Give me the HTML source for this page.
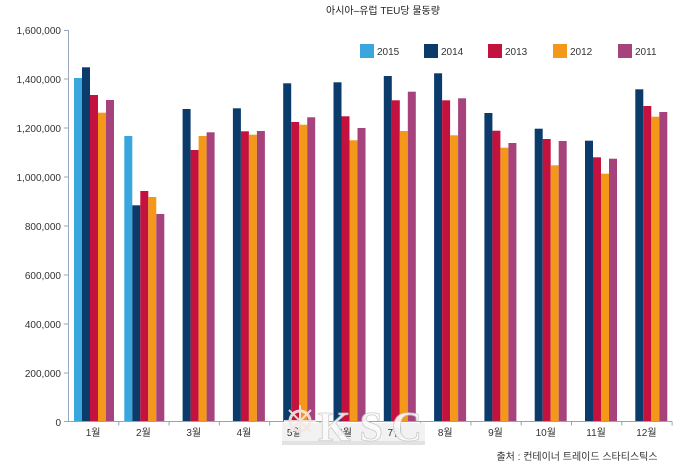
<!DOCTYPE html>
<html><head><meta charset="utf-8"><style>
html,body{margin:0;padding:0;background:#fff;}
svg{display:block;}
text{font-family:"Liberation Sans","Noto Sans CJK KR",sans-serif;}
</style></head><body>
<svg width="700" height="476" viewBox="0 0 700 476" xmlns="http://www.w3.org/2000/svg">
<rect width="700" height="476" fill="#fff"/>
<text x="383" y="14" font-size="10" fill="#222" text-anchor="middle">아시아–유럽 TEU당 물동량</text>
<!-- legend -->
<g font-size="10" fill="#333">
<rect x="360" y="44" width="14" height="14" fill="#3aa6de"/><text x="377" y="55">2015</text>
<rect x="424" y="44" width="14" height="14" fill="#0b3b6b"/><text x="441" y="55">2014</text>
<rect x="488" y="44" width="14" height="14" fill="#c4123e"/><text x="505" y="55">2013</text>
<rect x="553" y="44" width="14" height="14" fill="#f4981a"/><text x="570" y="55">2012</text>
<rect x="618" y="44" width="14" height="14" fill="#a7437c"/><text x="635" y="55">2011</text>
</g>
<!-- y axis -->
<g stroke="#9aa6bc" stroke-width="1">
<line x1="68.5" y1="30" x2="68.5" y2="422"/>
<line x1="64" y1="30.5" x2="68" y2="30.5"/>
<line x1="64" y1="79" x2="68" y2="79"/>
<line x1="64" y1="128" x2="68" y2="128"/>
<line x1="64" y1="177" x2="68" y2="177"/>
<line x1="64" y1="226" x2="68" y2="226"/>
<line x1="64" y1="275" x2="68" y2="275"/>
<line x1="64" y1="324" x2="68" y2="324"/>
<line x1="64" y1="373" x2="68" y2="373"/>
<line x1="64" y1="421.5" x2="68" y2="421.5"/>
</g>
<g font-size="10" fill="#333" text-anchor="end">
<text x="61" y="34">1,600,000</text>
<text x="61" y="83">1,400,000</text>
<text x="61" y="132">1,200,000</text>
<text x="61" y="181">1,000,000</text>
<text x="61" y="230">800,000</text>
<text x="61" y="279">600,000</text>
<text x="61" y="328">400,000</text>
<text x="61" y="377">200,000</text>
<text x="61" y="426">0</text>
</g>
<!-- bars -->
<g id="bars"></g>
<!-- x axis -->
<g stroke="#a0a0a0" stroke-width="1">
<line x1="68" y1="421.5" x2="672" y2="421.5"/>
</g>
<g id="xt" stroke="#a0a0a0" stroke-width="1"></g>
<rect x="282" y="423" width="143" height="18" fill="#f2f2f2"/>
<g id="xl" font-size="10" fill="#333" text-anchor="middle"></g>
<text x="577" y="460" font-size="10" fill="#333" text-anchor="middle">출처 : 컨테이너 트레이드 스타티스틱스</text>
<!-- watermark -->
<rect x="282" y="441" width="143" height="4" fill="#cfcfcf" opacity="0.6"/>
<g opacity="0.9">
<circle cx="300" cy="421" r="10" fill="none" stroke="#f3e8e4" stroke-width="3"/>
<line x1="300" y1="405" x2="300" y2="437" stroke="#f3e8e4" stroke-width="2"/>
<line x1="284" y1="421" x2="316" y2="421" stroke="#f3e8e4" stroke-width="2"/>
<line x1="289" y1="410" x2="311" y2="432" stroke="#f3e8e4" stroke-width="2"/>
<line x1="311" y1="410" x2="289" y2="432" stroke="#f3e8e4" stroke-width="2"/>
<text x="318" y="441" textLength="104" lengthAdjust="spacing" style="font-family:'Liberation Serif',serif;font-weight:bold;font-size:42px" fill="#fbfbfb" stroke="#c8c8c8" stroke-width="0.8">KSC</text>
</g>
</svg>
<script>
var tops=[
[78,67.3,95,112.7,100],
[136,205.3,191,197,214],
[null,109,150,136,132.3],
[null,108.3,131.3,134.7,131],
[null,83.3,122,124.7,117.3],
[null,82.3,116.3,140.3,128],
[null,76,100.3,131,91.7],
[null,73.3,100.3,135.3,98.3],
[null,113,130.7,147.7,143],
[null,128.7,139,165.3,141],
[null,140.7,157.3,173.7,158.7],
[null,89.3,106,116.7,112]];
var cols=["#3aa6de","#0b3b6b","#c4123e","#f4981a","#a7437c"];
var ns="http://www.w3.org/2000/svg";
var g=document.getElementById("bars"),xt=document.getElementById("xt"),xl=document.getElementById("xl");
for(var i=0;i<12;i++){
 var bx=82+50.3*i;
 for(var s=0;s<5;s++){
  var t=tops[i][s]; if(t===null)continue;
  var r=document.createElementNS(ns,"rect");
  r.setAttribute("x",(bx+(s-1)*8).toFixed(1));
  r.setAttribute("y",t);
  r.setAttribute("width","8");
  r.setAttribute("height",(421.5-t).toFixed(1));
  r.setAttribute("fill",cols[s]);
  g.appendChild(r);
 }
 var tx=68.5+50.3*(i+1);
 var l=document.createElementNS(ns,"line");
 l.setAttribute("x1",tx);l.setAttribute("x2",tx);l.setAttribute("y1",421.5);l.setAttribute("y2",425.5);
 xt.appendChild(l);
 var tt=document.createElementNS(ns,"text");
 tt.setAttribute("x",(68+50.3*i+25.1).toFixed(1));
 tt.setAttribute("y","436");
 tt.textContent=(i+1)+"월";
 xl.appendChild(tt);
}
</script>
</body></html>
